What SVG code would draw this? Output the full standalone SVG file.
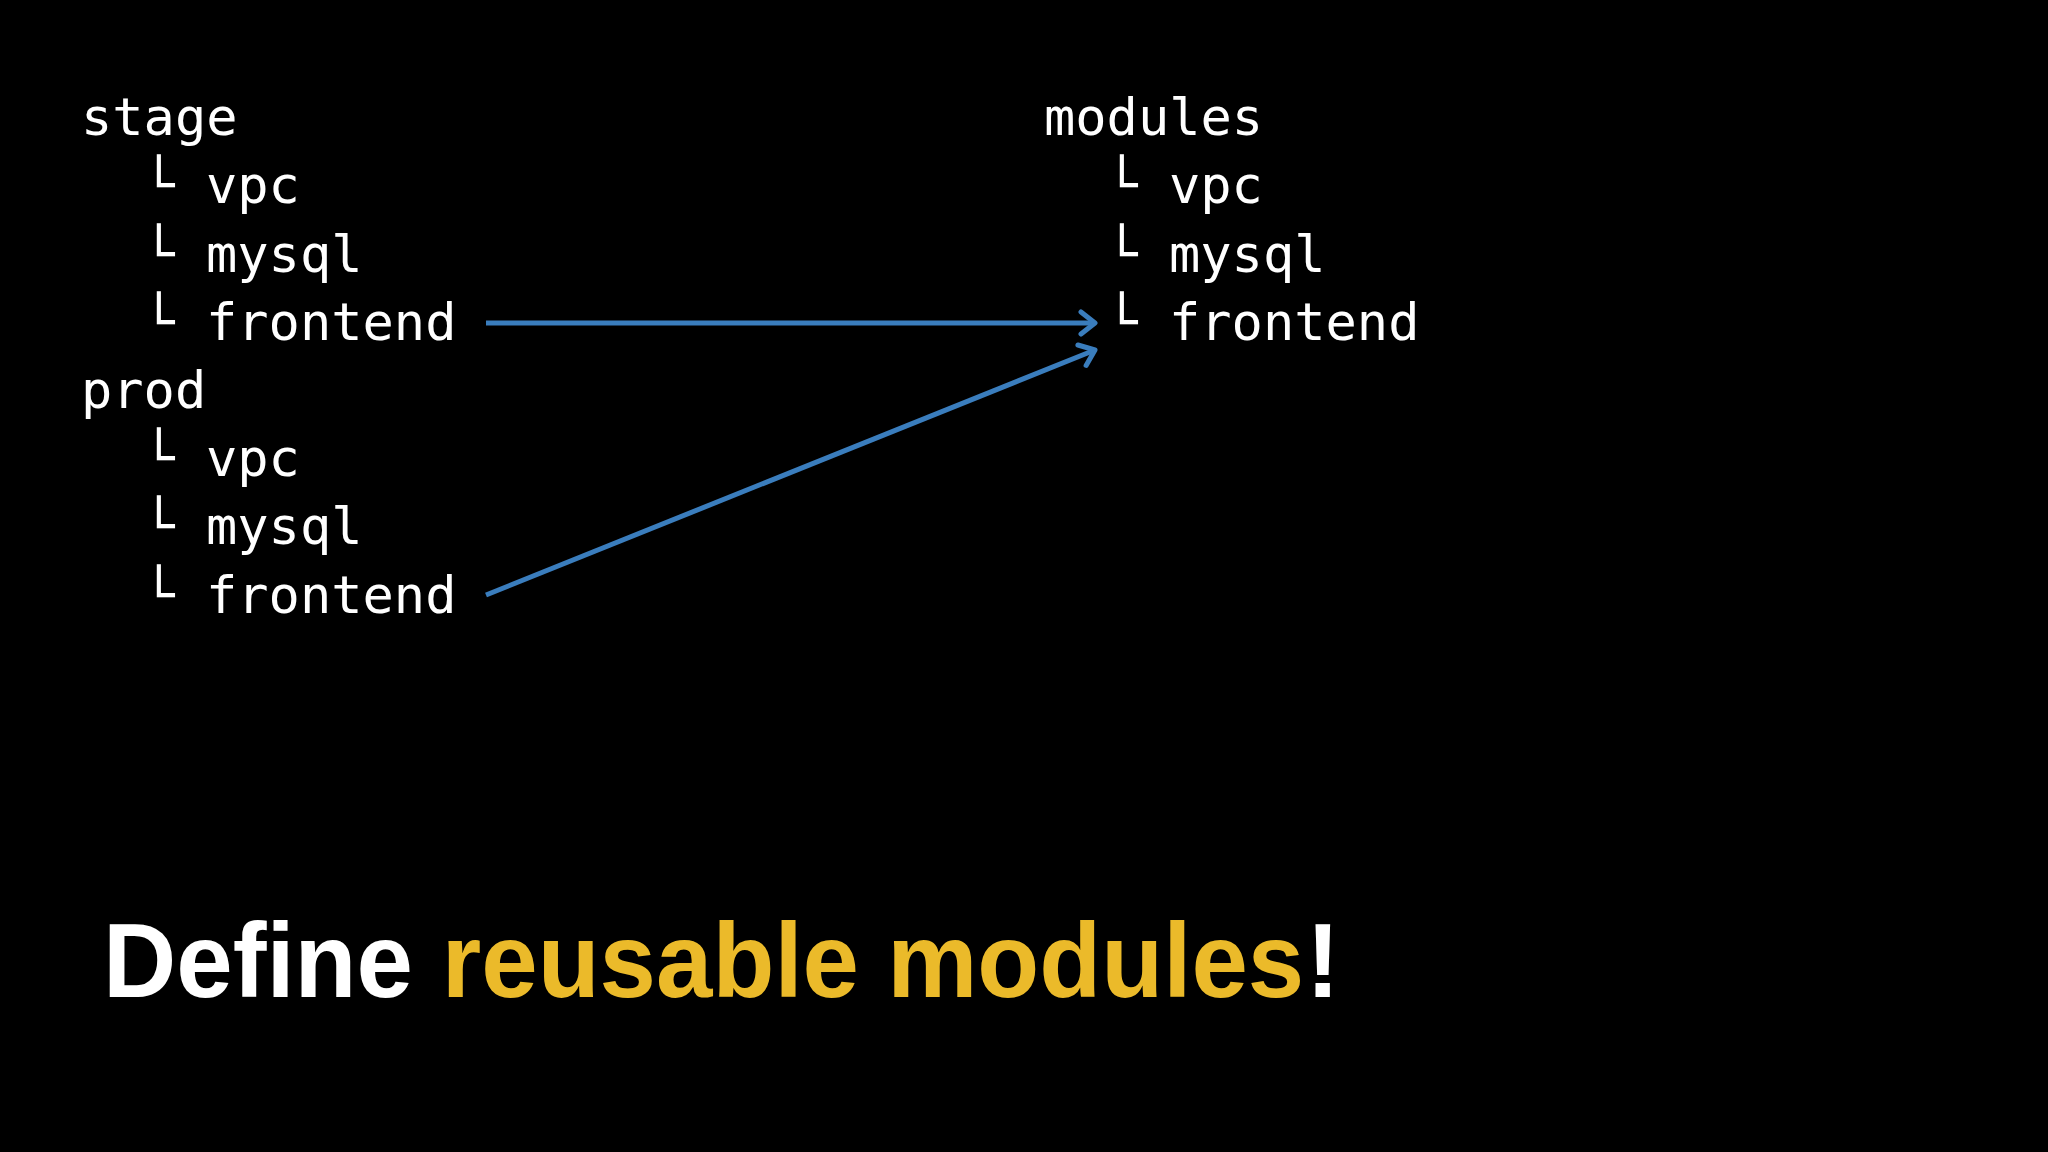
<svg xmlns="http://www.w3.org/2000/svg" width="2048" height="1152" viewBox="0 0 2048 1152">
<defs>
<style>
.mono{font-family:"DejaVu Sans Mono","Liberation Mono",monospace;font-size:52px;fill:#ffffff}
.box{font-family:"DejaVu Sans Mono","Liberation Mono",monospace;font-size:52px;fill:#ffffff}
.title{font-family:"Liberation Sans",Arial,sans-serif;font-weight:bold;font-size:106px;fill:#ffffff}
.hl{fill:#EBBA2A}
.conn{stroke:#3A7DBD;stroke-width:5;fill:none}
</style>
<marker id="arr" markerUnits="userSpaceOnUse" viewBox="-20 -14 24 28" markerWidth="24" markerHeight="28" refX="0" refY="0" orient="auto">
<path d="M-14,-11 L0,0 L-14,11" fill="none" stroke="#3A7DBD" stroke-width="5" stroke-linecap="round" stroke-linejoin="round"/>
</marker>
</defs>
<rect width="2048" height="1152" fill="#000000"/>
<g id="stage">
<text class="mono" x="81" y="135">stage</text>
<text class="box" x="143" y="203">└</text><text class="mono" x="206" y="203">vpc</text>
<text class="box" x="143" y="272">└</text><text class="mono" x="206" y="272">mysql</text>
<text class="box" x="143" y="340">└</text><text class="mono" x="206" y="340">frontend</text>
</g>
<g id="prod">
<text class="mono" x="81" y="408">prod</text>
<text class="box" x="143" y="476">└</text><text class="mono" x="206" y="476">vpc</text>
<text class="box" x="143" y="544">└</text><text class="mono" x="206" y="544">mysql</text>
<text class="box" x="143" y="613">└</text><text class="mono" x="206" y="613">frontend</text>
</g>
<g id="modules">
<text class="mono" x="1044" y="135">modules</text>
<text class="box" x="1106" y="203">└</text><text class="mono" x="1169" y="203">vpc</text>
<text class="box" x="1106" y="272">└</text><text class="mono" x="1169" y="272">mysql</text>
<text class="box" x="1106" y="340">└</text><text class="mono" x="1169" y="340">frontend</text>
</g>
<g id="connectors">
<line class="conn" x1="486" y1="323" x2="1095" y2="323" marker-end="url(#arr)"/>
<line class="conn" x1="486" y1="595" x2="1095" y2="350" marker-end="url(#arr)"/>
</g>
<g id="title" transform="translate(103,997) scale(0.957,1)">
<text class="title" x="0" y="0">Define</text>
<text class="title hl" x="354" y="0">reusable modules</text>
<text class="title" x="1257" y="0">!</text>
</g>
</svg>
